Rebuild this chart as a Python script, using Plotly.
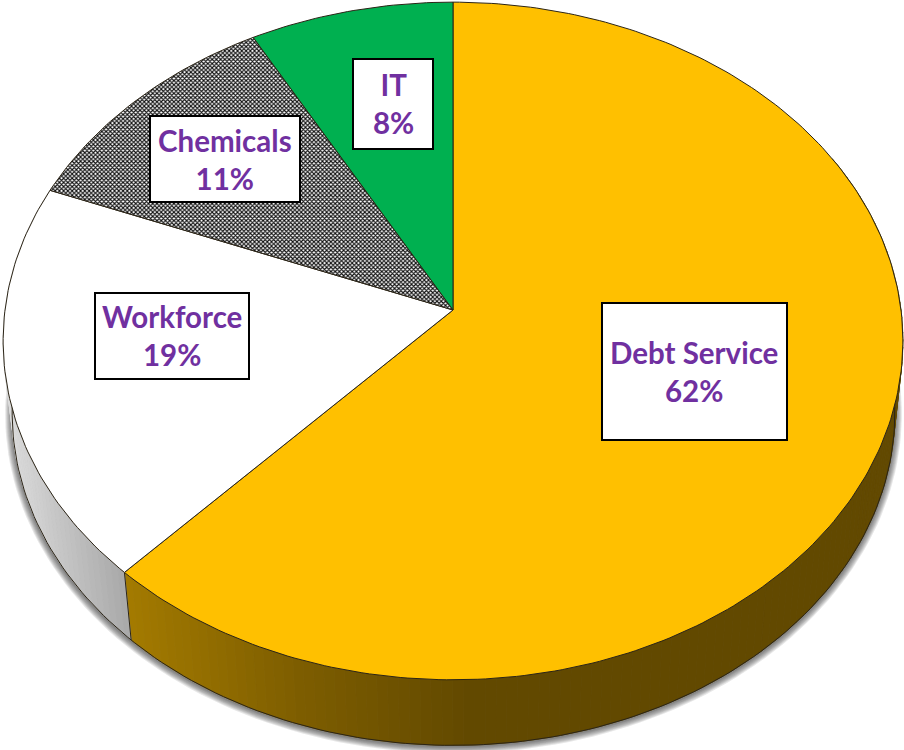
import numpy as np
import plotly.graph_objects as go

# Budget shares, clockwise from twelve o'clock
categories = ["Debt Service", "Workforce", "Chemicals", "IT"]
shares = [62, 19, 11, 8]

top_colors = ["#FFC000", "#FFFFFF", None, "#00B050"]
edge_color = "#2b2416"
label_color = "#7030A0"

# Label boxes: x0, y0, x1, y1 and the middle of the text block
box_x0 = [602, 95, 150, 353]
box_y0 = [303, 293, 116, 59]
box_x1 = [787, 249, 300, 433]
box_y1 = [440, 379, 202, 149]
text_x = [694, 172, 225, 393]
text_y = [371, 335, 159, 103]

W, H = 904, 750

# Perspective disc: apex of the slices, depth foreshortening and scale
APEX_X, APEX_Y = 453.0, 310.0
K, SCALE_Y, SCALE_X = 0.0914, 336.0, 448.0
# Rim of the underside relative to the top surface
TOP_CX, TOP_CY = 452.0, 341.0
BOT_CX, BOT_CY, BOT_S = 452.5, 413.0, 0.981


def top_point(theta):
    w = 1 + K * np.cos(theta)
    return APEX_X + SCALE_X * np.sin(theta) / w, APEX_Y - SCALE_Y * np.cos(theta) / w


def bottom_point(theta):
    x, y = top_point(theta)
    return BOT_CX + BOT_S * (x - TOP_CX), BOT_CY + BOT_S * (y - TOP_CY)


def mix(a, b, t):
    t = min(max(t, 0.0), 1.0)
    return tuple(int(round(p + (q - p) * t)) for p, q in zip(a, b))


def debt_wall(x):
    if x < 300:
        return mix((163, 122, 0), (125, 93, 0), (x - 128) / 172)
    return mix((125, 93, 0), (98, 73, 0), (x - 300) / 170)


def workforce_wall(x):
    return mix((218, 218, 218), (166, 166, 166), (x - 10) / 120)


fig = go.Figure()

fractions = np.cumsum([0] + shares) / sum(shares)
angles = 2 * np.pi * fractions

# Soft shadow under the disc
all_t = np.linspace(0, 2 * np.pi, 241)
bx, by = bottom_point(all_t)
for grow in [7, 6, 5, 4, 3, 2, 1]:
    fig.add_trace(go.Scatter(
        x=BOT_CX + (bx - BOT_CX) * (1 + grow / 440),
        y=BOT_CY + (by - BOT_CY) * (1 + grow / 332) + 1,
        mode="lines", line=dict(width=0), fill="toself",
        fillcolor="rgba(40,40,40,0.11)", hoverinfo="skip", showlegend=False,
    ))

# Side wall, built from thin strips so the shading can run along the rim
wall_spans = [
    (np.radians(62), angles[1], debt_wall),
    (angles[1], np.radians(292), workforce_wall),
]
for start, end, shade in wall_spans:
    edges = np.linspace(start, end, int((end - start) * 45) + 2)
    for a, b in zip(edges[:-1], edges[1:]):
        xa, ya = top_point(np.array([a, b]))
        xb, yb = bottom_point(np.array([b, a]))
        r, g, bl = shade(float(np.mean(xa)))
        c = f"rgb({r},{g},{bl})"
        fig.add_trace(go.Scatter(
            x=list(xa) + list(xb) + [xa[0]], y=list(ya) + list(yb) + [ya[0]],
            mode="lines", line=dict(width=0.8, color=c), fill="toself",
            fillcolor=c, hoverinfo="skip", showlegend=False,
        ))

# Lower rim and the seam between the two visible wall sections
rim_t = np.linspace(np.radians(62), np.radians(292), 200)
rx, ry = bottom_point(rim_t)
fig.add_trace(go.Scatter(x=rx, y=ry, mode="lines", line=dict(width=1, color=edge_color),
                         hoverinfo="skip", showlegend=False))
sx0, sy0 = top_point(angles[1])
sx1, sy1 = bottom_point(angles[1])
fig.add_trace(go.Scatter(x=[sx0, sx1], y=[sy0, sy1], mode="lines",
                         line=dict(width=1, color=edge_color),
                         hoverinfo="skip", showlegend=False))

# Top surface slices
for i, name in enumerate(categories):
    t = np.linspace(angles[i], angles[i + 1], max(int(shares[i] * 4), 12))
    x, y = top_point(t)
    px = [APEX_X] + list(x) + [APEX_X]
    py = [APEX_Y] + list(y) + [APEX_Y]
    style = dict(fillcolor=top_colors[i]) if top_colors[i] else dict(
        fillcolor="#808080",
        fillpattern=dict(shape="x", fgcolor="#111111", bgcolor="#FFFFFF",
                         size=3, solidity=0.6, fillmode="replace"),
    )
    fig.add_trace(go.Scatter(
        x=px, y=py, mode="lines", name=name, fill="toself",
        line=dict(width=1, color=edge_color), hoverinfo="skip",
        showlegend=False, **style,
    ))

# Label boxes and text
for i, name in enumerate(categories):
    fig.add_shape(type="rect", x0=box_x0[i], y0=box_y0[i], x1=box_x1[i], y1=box_y1[i],
                  line=dict(color="#000000", width=2), fillcolor="#FFFFFF", layer="above")
    fig.add_annotation(
        x=text_x[i], y=text_y[i], text=f"{name}<br>{shares[i]}%", showarrow=False,
        font=dict(family="Lato", size=29.5, color=label_color, weight="bold"),
        xanchor="center", yanchor="middle", align="center",
    )

fig.update_layout(
    width=W, height=H, margin=dict(l=0, r=0, t=0, b=0),
    paper_bgcolor="#FFFFFF", plot_bgcolor="#FFFFFF", showlegend=False,
    xaxis=dict(range=[0, W], visible=False, fixedrange=True),
    yaxis=dict(range=[H, 0], visible=False, fixedrange=True),
)

fig.write_html("out.html", config=dict(displayModeBar=False))
